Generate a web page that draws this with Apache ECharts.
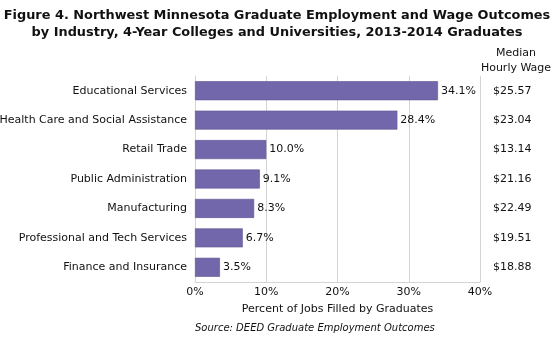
<!DOCTYPE html>
<html>
<head>
<meta charset="utf-8">
<script src="https://cdn.jsdelivr.net/npm/echarts@6/dist/echarts.min.js"></script>
<style>
  html, body { margin: 0; padding: 0; background: #fff; }
  #chart { width: 554px; height: 338px; }
</style>
</head>
<body>
<div id="chart"></div>
<script>
// Industries, top to bottom
const industries = [
  'Educational Services',
  'Health Care and Social Assistance',
  'Retail Trade',
  'Public Administration',
  'Manufacturing',
  'Professional and Tech Services',
  'Finance and Insurance'
];
// Percent of jobs filled by graduates
const jobShare = [34.1, 28.4, 10.0, 9.1, 8.3, 6.7, 3.5];
// Median hourly wage (dollars)
const medianWage = [25.57, 23.04, 13.14, 21.16, 22.49, 19.51, 18.88];
// Percent axis ticks
const xTicks = [0, 10, 20, 30, 40];

const FONT = 'DejaVu Sans';
const FS = 11;
const INK = '#111111';
const chart = echarts.init(document.getElementById('chart'), null, { renderer: 'canvas' });

chart.setOption({
  animation: false,
  backgroundColor: '#ffffff',
  textStyle: { fontFamily: FONT },
  title: {
    text: 'Figure 4. Northwest Minnesota Graduate Employment and Wage Outcomes\nby Industry, 4-Year Colleges and Universities, 2013-2014 Graduates',
    left: 'center', top: 2,
    textStyle: { fontFamily: FONT, fontWeight: 'bold', fontSize: 12.9, lineHeight: 17, color: INK }
  },
  graphic: [
    {
      type: 'text', x: 516, y: 53,
      style: { text: 'Median', font: FS + 'px "' + FONT + '"', fill: INK, align: 'center', verticalAlign: 'middle' }
    },
    {
      type: 'text', x: 516, y: 68,
      style: { text: 'Hourly Wage', font: FS + 'px "' + FONT + '"', fill: INK, align: 'center', verticalAlign: 'middle' }
    },
    {
      type: 'text', x: 195, y: 328,
      style: { text: 'Source: DEED Graduate Employment Outcomes', font: 'italic 10px "' + FONT + '"', fill: INK, align: 'left', verticalAlign: 'middle' }
    }
  ],
  grid: { left: 195, right: 74, top: 76, bottom: 56, containLabel: false, outerBoundsMode: 'none' },
  xAxis: {
    type: 'value',
    min: xTicks[0], max: xTicks[xTicks.length - 1], interval: 10,
    name: 'Percent of Jobs Filled by Graduates',
    nameLocation: 'middle', nameGap: 22,
    nameTextStyle: { fontFamily: FONT, fontSize: FS, color: INK },
    axisLine: { show: true, lineStyle: { color: '#d4d4d4', width: 1 } },
    axisTick: { show: false },
    axisLabel: { fontFamily: FONT, fontSize: FS, color: INK, margin: 5, formatter: v => v + '%' },
    splitLine: { show: true, lineStyle: { color: '#d4d4d4', width: 1 } }
  },
  yAxis: [
    {
      type: 'category', data: industries, inverse: true,
      axisLine: { show: true, lineStyle: { color: '#d4d4d4', width: 1 } },
      axisTick: { show: false },
      axisLabel: { fontFamily: FONT, fontSize: FS, color: INK, margin: 8 }
    },
    {
      type: 'category', data: industries, inverse: true, position: 'right',
      axisLine: { show: false },
      axisTick: { show: false },
      axisLabel: {
        fontFamily: FONT, fontSize: FS, color: INK, margin: 13,
        formatter: (v, i) => '$' + medianWage[i].toFixed(2)
      }
    }
  ],
  series: [
    {
      type: 'bar',
      data: jobShare,
      barWidth: 19,
      itemStyle: { color: '#7367ab', borderColor: '#5d5592', borderWidth: 0.6 },
      label: {
        show: true, position: 'right', distance: 3,
        fontFamily: FONT, fontSize: FS, color: INK,
        formatter: p => p.value.toFixed(1) + '%'
      }
    }
  ]
});
</script>
</body>
</html>
